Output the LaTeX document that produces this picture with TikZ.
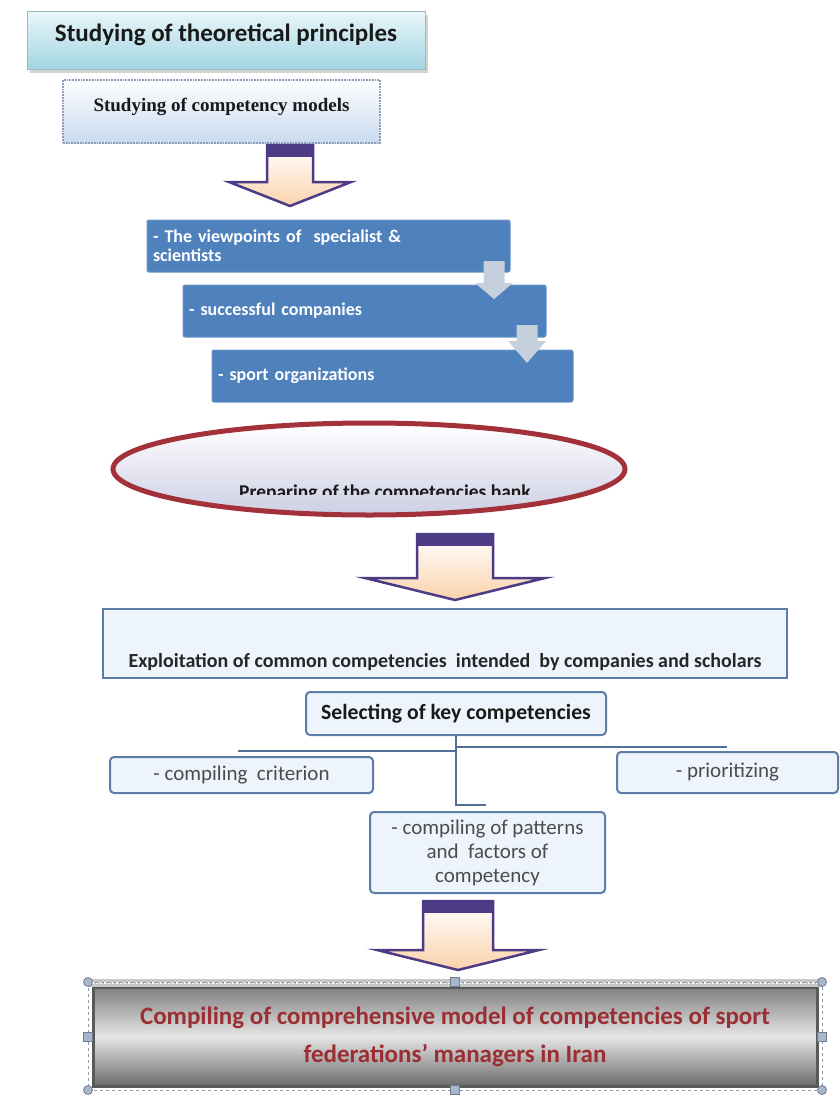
\documentclass[tikz,border=0pt]{standalone}
\usepackage{fontspec}
\setmainfont{Carlito}
\newfontfamily\timesfont{Liberation Serif}
\usetikzlibrary{shapes.geometric,shadows,calc}

\definecolor{titletop}{HTML}{E8F6FA}
\definecolor{titlebot}{HTML}{A3D5E1}
\definecolor{titleedge}{HTML}{9DB9C6}
\definecolor{modelbot}{HTML}{C9D9EE}
\definecolor{modeledge}{HTML}{8C9DB9}
\definecolor{officeblue}{HTML}{4F81BD}
\definecolor{officeedge}{HTML}{6A94C6}
\definecolor{paleblue}{HTML}{C6D0DD}
\definecolor{bankred}{HTML}{A3313A}
\definecolor{banklav}{HTML}{CDCFE4}
\definecolor{arrowedge}{HTML}{4E3B86}
\definecolor{arrowpeach}{HTML}{FBD2AC}
\definecolor{lightfill}{HTML}{EEF4FB}
\definecolor{lightedge}{HTML}{5B7DA7}
\definecolor{linkblue}{HTML}{4F6F98}
\definecolor{finalred}{HTML}{9B2E33}
\definecolor{framegray}{HTML}{8E9AAE}
\definecolor{handlefill}{HTML}{A6B6CE}

\def\blockarrow(#1:#2:#3:#4:#5:#6){%
  \draw[bigarrow] (#1-#3,#2) -- (#1+#3,#2) -- (#1+#3,#5) -- (#1+#4,#5) -- (#1,#6) -- (#1-#4,#5) -- (#1-#3,#5) -- cycle;
  \fill[arrowedge] (#1-#3,#2) rectangle (#1+#3,#2+12);}
\def\smallarrow(#1:#2:#3:#4:#5:#6){%
  \fill[paleblue] (#1-#3,#2) -- (#1+#3,#2) -- (#1+#3,#5) -- (#1+#4,#5) -- (#1,#6) -- (#1-#4,#5) -- (#1-#3,#5) -- cycle;}

\begin{document}
\begin{tikzpicture}[x=1pt,y=-1pt,
  titlebox/.style={draw=titleedge, line width=1pt, top color=titletop, bottom color=titlebot,
    drop shadow={shadow xshift=3pt,shadow yshift=-3pt,opacity=.35}, inner sep=0pt,
    font=\fontsize{25}{30}\selectfont\bfseries, text=black!90},
  modelbox/.style={draw=modeledge, line width=1.8pt, densely dotted, top color=white, bottom color=modelbot,
    inner sep=0pt, font=\timesfont\fontsize{19}{23}\selectfont\bfseries, text=black!90},
  bluebox/.style={draw=officeedge, line width=1pt, fill=officeblue, rounded corners=2pt,
    text width=351pt, inner xsep=6pt, minimum height=52pt, align=left,
    font=\fontsize{18}{19}\selectfont\bfseries, text=white},
  bankshape/.style={ellipse, draw=bankred, line width=5pt, top color=white, bottom color=banklav,
    minimum width=512pt, minimum height=92pt},
  banktext/.style={font=\fontsize{19.5}{22}\selectfont\bfseries, text=black!90, inner sep=0pt},
  bigarrow/.style={draw=arrowedge, line width=2.5pt, line join=miter, top color=white, bottom color=arrowpeach},
  lightbox/.style={draw=lightedge, line width=2pt, fill=lightfill, rounded corners=4pt, inner sep=0pt},
  greytext/.style={font=\fontsize{21}{24}\selectfont, text=black!70},
  link/.style={draw=linkblue, line width=2pt},
  finalbox/.style={draw=black!65, line width=3pt, top color=black!50, bottom color=black!58, middle color=black!10,
    minimum width=724pt, minimum height=99pt, align=center, text=finalred,
    font=\fontsize{25}{38}\selectfont\bfseries},
  selframe/.style={draw=framegray, line width=1pt, dashed},
  handle/.style={draw=framegray!80!black, fill=handlefill, line width=.8pt}]
  %%%%% START %%%%%

  \useasboundingbox (0,0) rectangle (839,1113);

  \node[titlebox, minimum width=398pt, text height=30pt, text depth=28pt] (title) at (226,41) {Studying of theoretical principles};
  \node[modelbox, minimum width=317pt, text height=32pt, text depth=31pt] (models) at (221.5,111.5) {Studying of competency models};

  \blockarrow(290:145:23:61:182:206)

  \node[bluebox] (experts) at (328.5,246) {- The viewpoints of~ specialist \&\\scientists};
  \node[bluebox] (firms) at (364.5,311) {- successful companies};
  \node[bluebox, text width=349pt] (sportorg) at (392.5,376) {- sport organizations};
  \smallarrow(494:261:10.5:19:283:299)
  \smallarrow(527:325:10.5:19:341:363)

  \node[bankshape] (bank) at (369,469) {};
  \begin{scope}
    \clip (100,400) rectangle (650,494);
    \node[banktext, anchor=base] (banktxt) at (385,498.5) {Preparing of the competencies bank};
  \end{scope}

  \blockarrow(455:534:38:90:578:600)

  \node[lightbox, line width=2.6pt, rounded corners=0pt, minimum width=684pt, text height=58pt, text depth=11pt,
    font=\fontsize{20}{22}\selectfont\bfseries, text=black!85] (exploit) at (445,643.5)
    {Exploitation of common competencies~ intended~ by companies and scholars};
  \node[lightbox, minimum width=300pt, minimum height=43pt, font=\fontsize{21.7}{24}\selectfont\bfseries, text=black!90]
    (select) at (456,713.5) {Selecting of key competencies};
  \node[lightbox, greytext, minimum width=263pt, minimum height=36pt] (criterion) at (241.5,775) {- compiling~ criterion};
  \node[lightbox, greytext, minimum width=221pt, minimum height=41pt] (priority) at (727.5,772.5) {- prioritizing};
  \node[lightbox, greytext, minimum width=235pt, minimum height=81pt, align=center] (patterns) at (487.5,852.5)
    {- compiling of patterns\\and~ factors of\\competency};

  \coordinate (leftend) at (238,751);
  \coordinate (rightend) at (727,747);
  \coordinate (stubend) at (486,805);
  \draw[link] (select.south) -- (select.south |- stubend) -- (stubend);
  \draw[link] (leftend) -- (leftend -| select.south);
  \draw[link] (rightend) -- (rightend -| select.south);

  \blockarrow(458:901:35:81:950:970)

  \node[finalbox] (final) at (455,1036.5)
    {Compiling of comprehensive model of competencies of sport\\federations’ managers in Iran};
  \fill[black!22] (88,979) rectangle (822,987);
  \draw[white, line width=1.2pt, dash pattern=on 2pt off 2pt] (88,983) -- (822,983);
  \draw[selframe] (88,982) rectangle (822,1090);
  \foreach \p in {(88,982),(822,982),(88,1090),(822,1090)}
    \draw[handle] \p circle (4.5);
  \foreach \p in {(455,982),(455,1090),(88,1037),(822,1037)}
    \draw[handle] \p ++(-4.5,-4.5) rectangle ++(9,9);

  %%%%% END %%%%%
\end{tikzpicture}
\end{document}
